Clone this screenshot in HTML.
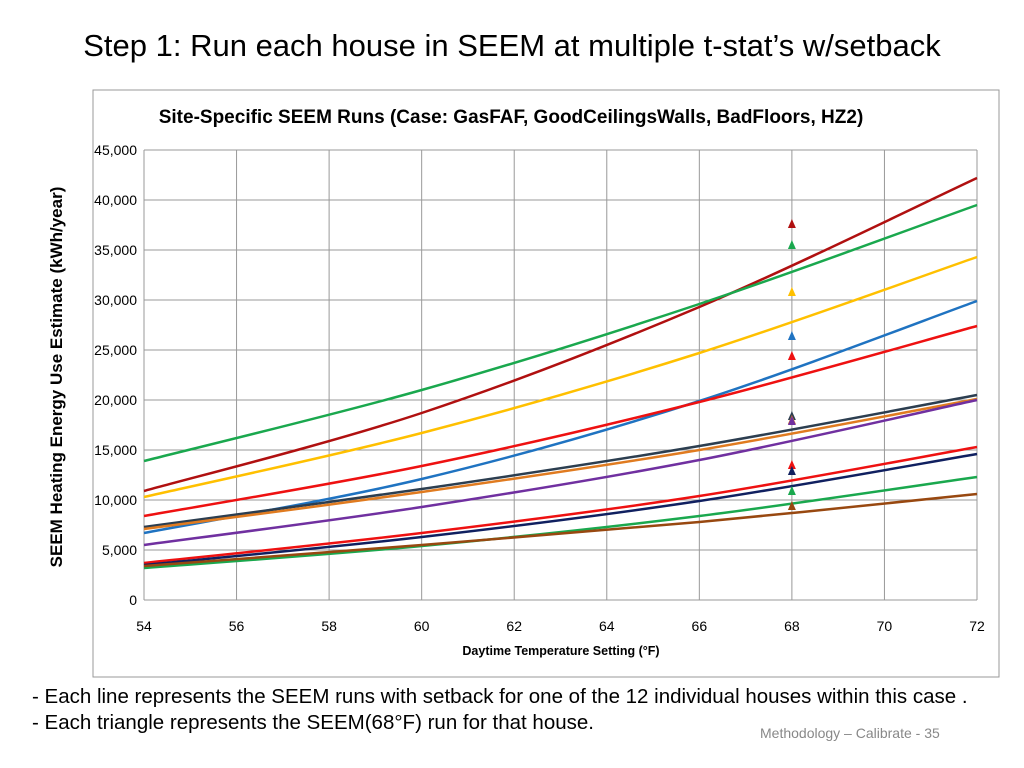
<!DOCTYPE html>
<html><head><meta charset="utf-8"><style>
body{margin:0;width:1024px;height:768px;background:#fff;font-family:"Liberation Sans",sans-serif;position:relative;overflow:hidden}
.t{position:absolute;white-space:nowrap}
</style></head><body>
<div class="t" style="left:0;width:1024px;text-align:center;top:28px;font-size:31px;color:#000">Step 1: Run each house in SEEM at multiple t-stat’s w/setback</div>
<svg width="1024" height="768" style="position:absolute;left:0;top:0">
<rect x="93" y="90" width="906" height="587" fill="#fff" stroke="#999"/>
<text x="511" y="123" text-anchor="middle" font-size="19" font-weight="bold" font-family="Liberation Sans">Site-Specific SEEM Runs (Case: GasFAF, GoodCeilingsWalls, BadFloors, HZ2)</text>
<g id="grid"></g><g id="lines"></g><g id="tris"></g><g id="axes"></g>
<text x="561" y="655" text-anchor="middle" font-size="12.5" font-weight="bold" font-family="Liberation Sans">Daytime Temperature Setting (°F)</text>
<text transform="translate(62,377) rotate(-90)" text-anchor="middle" font-size="17" font-weight="bold" font-family="Liberation Sans">SEEM Heating Energy Use Estimate (kWh/year)</text>
</svg>
<div class="t" style="left:32px;top:685px;font-size:20.5px">- Each line represents the SEEM runs with setback for one of the 12 individual houses within this case .</div>
<div class="t" style="left:32px;top:711px;font-size:20.5px">- Each triangle represents the SEEM(68°F) run for that house.</div>
<div class="t" style="left:760px;top:725px;font-size:14px;color:#888">Methodology – Calibrate - 35</div>
<script>
const xTemps=[54,60,66,72];
const colors=["#b01010","#1aa84e","#ffc000","#1f73c1","#ee1111","#2c3e50","#e07b20","#7030a0","#ee1111","#102060","#1aa84e","#984810"];
const s1=[10900,18700,29300,42200];
const s2=[13900,21000,29600,39500];
const s3=[10300,16700,24700,34300];
const s4=[6700,12100,19900,29900];
const s5=[8400,13400,19800,27400];
const s6=[7300,11100,15400,20500];
const s7=[7100,10800,15000,20100];
const s8=[5500,9300,14000,20000];
const s9=[3700,6700,10400,15300];
const s10=[3500,6300,9900,14600];
const s11=[3200,5400,8400,12300];
const s12=[3400,5500,7800,10600];
const series=[s1,s2,s3,s4,s5,s6,s7,s8,s9,s10,s11,s12];
const tri68=[37600,35500,30800,26400,24400,18400,18000,17900,13500,12900,10900,9400];
const triColors=["#b01010","#1aa84e","#ffc000","#1f73c1","#ee1111","#2c3e50","#e07b20","#7030a0","#ee1111","#102060","#1aa84e","#984810"];
const xTicks=[54,56,58,60,62,64,66,68,70,72];
const yTicks=[0,5000,10000,15000,20000,25000,30000,35000,40000,45000];
const NS="http://www.w3.org/2000/svg";
const X=v=>144+(v-54)/18*833, Y=v=>600-v/45000*450;
function mk(tag,a,p){const e=document.createElementNS(NS,tag);for(const k in a)e.setAttribute(k,a[k]);document.getElementById(p).appendChild(e);return e;}
yTicks.forEach(t=>{
 const l=mk("line",{x1:144,x2:977,y1:Y(t),y2:Y(t),stroke:"#999","stroke-width":1},"grid");
 
 
 const tx=mk("text",{x:137,y:Y(t)+5,"text-anchor":"end","font-size":14,"font-family":"Liberation Sans"},"axes");tx.textContent=t.toLocaleString("en-US");
 
 
});
xTicks.forEach(t=>{
 const l=mk("line",{x1:X(t),x2:X(t),y1:150,y2:600,stroke:"#999","stroke-width":1},"grid");
 
 
 const tx=mk("text",{x:X(t),y:631,"text-anchor":"middle","font-size":14,"font-family":"Liberation Sans"},"axes");tx.textContent=t;
 
 
});
series.forEach((s,i)=>{
 const p=s.map((v,j)=>[X(xTemps[j]),Y(v)]);
 let d="M"+p[0];
 for(let j=0;j<p.length-1;j++){
  const p0=p[j-1]||p[j],p1=p[j],p2=p[j+1],p3=p[j+2]||p[j+1];
  d+=" C"+(p1[0]+(p2[0]-p0[0])/6)+","+(p1[1]+(p2[1]-p0[1])/6)+" "+(p2[0]-(p3[0]-p1[0])/6)+","+(p2[1]-(p3[1]-p1[1])/6)+" "+p2;
 }
 const e=mk("path",{d:d,fill:"none",stroke:colors[i],"stroke-width":2.5},"lines");
 
 
});
tri68.forEach((v,i)=>{
 const x=X(68),y=Y(v);
 const e=mk("polygon",{points:`${x-4},${y+4} ${x+4},${y+4} ${x},${y-5}`,fill:triColors[i]},"tris");
 
 
});
</script>
</body></html>
